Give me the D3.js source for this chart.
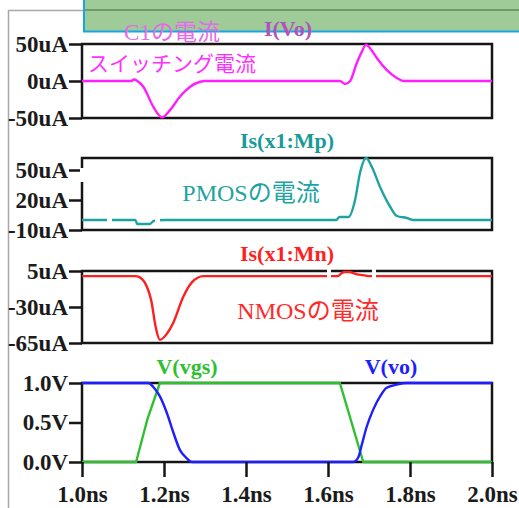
<!DOCTYPE html>
<html>
<head>
<meta charset="utf-8">
<script src="https://cdn.jsdelivr.net/npm/d3@7"></script>
<style>
  body { margin: 0; background: #fff; }
  svg text { font-family: "Liberation Serif", "Noto Sans CJK JP", serif; }
  .tick text { font-weight: bold; font-size: 23px; fill: #1b1b1b; }
</style>
</head>
<body>
<div id="chart"></div>
<script>
// time axis (ns)
const timeTicks = [1.0, 1.2, 1.4, 1.6, 1.8, 2.0];

// I(Vo) : C1 current (uA)
const icT = [1.0, 1.12, 1.127, 1.135, 1.15, 1.174, 1.195, 1.215, 1.239, 1.263, 1.288, 1.3, 1.629, 1.641, 1.654, 1.67, 1.682, 1.693, 1.703, 1.719, 1.743, 1.768, 1.784, 2.0];
const icV = [0, 0, 2, 0, -8, -35, -49, -39, -21, -8, -1, 0, 0, -4, 0, 24, 39, 49, 44, 31, 15, 4, 0, 0];
const icTicks = [50, 0, -50];

// Is(x1:Mp) : PMOS current (uA)
const mpT = [1.0, 1.13, 1.135, 1.165, 1.175, 1.2, 1.62, 1.628, 1.65, 1.666, 1.678, 1.693, 1.707, 1.727, 1.752, 1.768, 1.792, 1.808, 2.0];
const mpV = [0, 0, -4, -4, -1, 0, 0, 3, 3, 20, 47, 62, 53, 33, 13, 4, 2, 0, 0];
const mpTicks = [50, 20, -10];

// Is(x1:Mn) : NMOS current (uA)
const mnT = [1.0, 1.13, 1.14, 1.153, 1.169, 1.18, 1.19, 1.207, 1.223, 1.247, 1.268, 1.296, 1.624, 1.632, 1.64, 1.652, 1.668, 1.692, 1.7, 2.0];
const mnV = [0, 0, -1, -6, -24, -50, -62, -56, -45, -20, -6, 0, 0, 2.5, 4, 4, 2, 0.5, 0, 0];
const mnTicks = [5, -30, -65];

// V(vgs), V(vo) (V)
const vgsT = [1.0, 1.132, 1.16, 1.19, 1.629, 1.686, 2.0];
const vgsV = [0, 0, 0.55, 1, 1, 0, 0];
const voT = [1.0, 1.162, 1.174, 1.19, 1.207, 1.223, 1.239, 1.255, 1.268, 1.662, 1.674, 1.682, 1.694, 1.71, 1.727, 1.743, 1.768, 1.792, 2.0];
const voV = [1, 1, 0.95, 0.83, 0.62, 0.37, 0.15, 0.05, 0, 0, 0.06, 0.21, 0.44, 0.66, 0.83, 0.94, 0.98, 1, 1];
const vTicks = [1.0, 0.5, 0.0];

const W = 519, H = 508;
const svg = d3.select("#chart").append("svg").attr("width", W).attr("height", H);

// window decorations
svg.append("path").attr("d", "M8.5,508 V10.5 H84").attr("fill", "none").attr("stroke", "#a8a8a8").attr("stroke-width", 1.5);

const x = d3.scaleLinear().domain([1.0, 2.0]).range([82, 492]);

function panel(top, bottom, domain, ticks, fmt, series) {
  var y = d3.scaleLinear().domain(domain).range([bottom, top]);
  var g = svg.append("g");
  g.append("rect").attr("x", x(1.0)).attr("y", top).attr("width", x(2.0) - x(1.0)).attr("height", bottom - top)
    .attr("fill", "none").attr("stroke", "#151515").attr("stroke-width", 2.5);
  var ax = g.append("g").attr("transform", "translate(" + x(1.0) + ",0)")
    .call(d3.axisLeft(y).tickValues(ticks).tickSize(13).tickPadding(1).tickFormat(fmt));
  ax.select(".domain").remove();
  ax.selectAll(".tick line").attr("stroke", "#151515").attr("stroke-width", 2.5);
  series.forEach(function (s) {
    var pts = s.t.map(function (t, i) { return [t, s.v[i]]; });
    var line = d3.line().x(d => x(d[0])).y(d => y(d[1])).curve(s.curve || d3.curveMonotoneX);
    g.append("path").datum(pts).attr("d", line).attr("fill", "none")
      .attr("stroke", s.color).attr("stroke-width", 2.4).attr("stroke-linejoin", "round");
  });
  return { g: g, y: y };
}

const uA = d => d + "uA";
const volt = d => d3.format(".1f")(d) + "V";

panel(44, 118, [-50, 50], icTicks, uA, [{ t: icT, v: icV, color: "#ff1eff" }]);
panel(158, 230, [-10, 62], mpTicks, uA, [{ t: mpT, v: mpV, color: "#1fa3a0" }]);
panel(271, 343, [-65, 5], mnTicks, uA, [{ t: mnT, v: mnV, color: "#ff1f1f" }]);
const pv = panel(383, 462, [0, 1], vTicks, volt, [
  { t: vgsT, v: vgsV, color: "#2ec02e", curve: d3.curveLinear },
  { t: voT, v: voV, color: "#1e1eff" }
]);

// time axis
const xa = svg.append("g").attr("transform", "translate(0,462)")
  .call(d3.axisBottom(x).tickValues(timeTicks).tickSize(15).tickPadding(9).tickFormat(d => d3.format(".1f")(d) + "ns"));
xa.select(".domain").remove();
xa.selectAll(".tick line").attr("stroke", "#151515").attr("stroke-width", 2.5);

// small white glitches on the traces
[[107, 214, 5, 12], [155, 214, 5, 12], [327, 266, 4, 14], [372, 266, 4, 14], [80, 168, 4, 14]].forEach(function (r) {
  svg.append("rect").attr("x", r[0]).attr("y", r[1]).attr("width", r[2]).attr("height", r[3]).attr("fill", "#fff");
});

// green overlay bar at top
svg.append("rect").attr("x", 83).attr("y", 0).attr("width", W - 83).attr("height", 31).attr("fill", "#9ecb98");
svg.append("line").attr("x1", 83).attr("x2", W).attr("y1", 10).attr("y2", 10).attr("stroke", "#6c9c6a").attr("stroke-width", 2);
svg.append("path").attr("d", "M84,0 V31.5 H519").attr("fill", "none").attr("stroke", "#1aa6e3").attr("stroke-width", 2);

// trace names and notes
function label(txt, cx, by, color, size, bold) {
  svg.append("text").attr("x", cx).attr("y", by).attr("text-anchor", "middle")
    .attr("font-size", size).attr("font-weight", bold ? "bold" : "normal").attr("fill", color).text(txt);
}
label("C1の電流", 172, 40, "#e46ae6", 23, false);
label("I(Vo)", 288, 36, "#b052c0", 22, true);
label("スイッチング電流", 172, 71, "#ff30ff", 21, false);
label("Is(x1:Mp)", 287, 148, "#1c9a98", 22, true);
label("PMOSの電流", 251, 201, "#1fa3a0", 24, false);
label("Is(x1:Mn)", 287, 261, "#ff1f1f", 22, true);
label("NMOSの電流", 308, 319, "#ff2a2a", 24, false);
label("V(vgs)", 187, 374, "#2ec02e", 22, true);
label("V(vo)", 391, 374, "#1e1eff", 22, true);
</script>
</body>
</html>
